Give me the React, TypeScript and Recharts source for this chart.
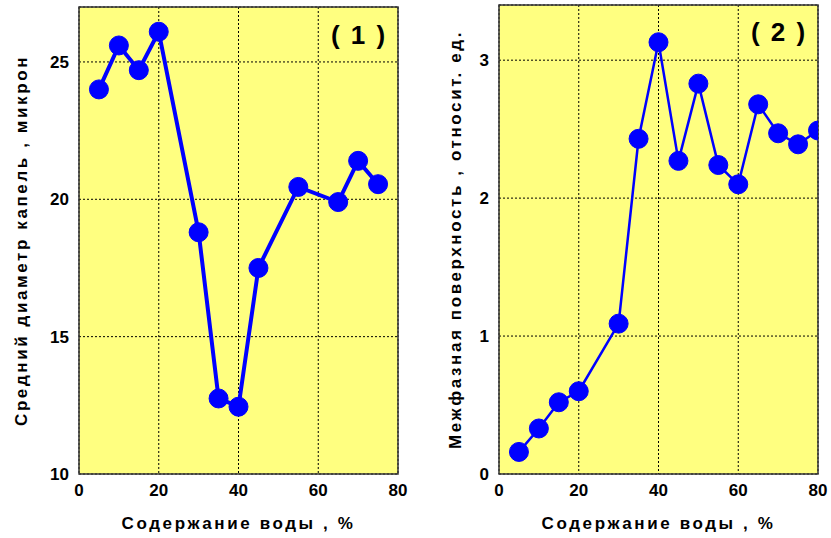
import React from 'react'
import { LineChart, Line, XAxis, YAxis, CartesianGrid, ReferenceArea } from 'recharts'

const water1 = [5, 10, 15, 20, 30, 35, 40, 45, 55, 65, 70, 75]
const diameter = [24.0, 25.6, 24.7, 26.1, 18.8, 12.75, 12.45, 17.5, 20.45, 19.9, 21.4, 20.55]

const water2 = [5, 10, 15, 20, 30, 35, 40, 45, 50, 55, 60, 65, 70, 75, 80]
const surface = [0.16, 0.33, 0.52, 0.6, 1.09, 2.43, 3.13, 2.27, 2.83, 2.24, 2.1, 2.68, 2.47, 2.39, 2.49]

const xTicks = [0, 20, 40, 60, 80]
const yTicks1 = [10, 15, 20, 25]
const yTicks2 = [0, 1, 2, 3]

const data1 = water1.map((w, i) => ({ w, v: diameter[i] }))
const data2 = water2.map((w, i) => ({ w, v: surface[i] }))

const FONT = '"Liberation Sans", Arial, sans-serif'
const tickStyle = { fontSize: 17, fontWeight: 700, fill: '#000', fontFamily: FONT }
const labelStyle = { fontSize: 17, fontWeight: 700, fill: '#000', fontFamily: FONT, letterSpacing: 2.6 }

const BLUE = '#0000FF'
const YELLOW = '#FFFF80'

type PanelProps = {
  data: { w: number; v: number }[]
  width: number
  margin: { top: number; right: number; left: number; bottom: number }
  yDomain: [number, number]
  yTicks: number[]
  yLabel: string
  yLabelDx: number
  strokeWidth: number
}

function Panel({ data, width, margin, yDomain, yTicks, yLabel, yLabelDx, strokeWidth }: PanelProps) {
  return (
    <LineChart width={width} height={538} data={data} margin={margin}>
      <CartesianGrid fill={YELLOW} fillOpacity={1} stroke="#000" strokeDasharray="2 2" />
      <XAxis
        dataKey="w"
        type="number"
        domain={[0, 80]}
        ticks={xTicks}
        interval={0}
        allowDataOverflow
        height={538 - 474}
        tick={tickStyle}
        tickLine={false}
        axisLine={false}
        tickSize={6}
        tickMargin={4}
        label={{ value: 'Содержание воды , %', position: 'insideBottom', offset: 9, style: labelStyle }}
      />
      <YAxis
        type="number"
        domain={yDomain}
        ticks={yTicks}
        interval={0}
        allowDataOverflow
        width={79}
        tick={tickStyle}
        tickLine={false}
        axisLine={false}
        tickSize={6}
        tickMargin={4}
        label={{ value: yLabel, angle: -90, position: 'center', dx: yLabelDx, style: labelStyle }}
      />
      <ReferenceArea
        x1={0}
        x2={80}
        y1={yDomain[0]}
        y2={yDomain[1]}
        fill="none"
        stroke="#333"
        strokeWidth={1.5}
        fillOpacity={0}
      />
      <Line
        dataKey="v"
        type="linear"
        stroke={BLUE}
        strokeWidth={strokeWidth}
        dot={{ r: 9.5, fill: BLUE, stroke: BLUE, strokeWidth: 1 }}
        isAnimationActive={false}
      />
    </LineChart>
  )
}

const titleStyle: React.CSSProperties = {
  position: 'absolute',
  fontFamily: FONT,
  fontWeight: 700,
  fontSize: 26,
  lineHeight: '26px',
  letterSpacing: 2,
  whiteSpace: 'pre',
  transform: 'translateX(-50%)',
}

export default function App() {
  return (
    <div style={{ position: 'absolute', left: 0, top: 0, width: 831, height: 538, background: '#fff' }}>
      <div style={{ position: 'absolute', left: 0, top: 0 }}>
        <Panel
          data={data1}
          width={420}
          margin={{ top: 7, right: 22, left: 0, bottom: 0 }}
          yDomain={[10, 27]}
          yTicks={yTicks1}
          yLabel="Средний диаметр капель , микрон"
          yLabelDx={-19}
          strokeWidth={4}
        />
      </div>
      <div style={{ position: 'absolute', left: 420, top: 0 }}>
        <Panel
          data={data2}
          width={411}
          margin={{ top: 5, right: 13, left: 0, bottom: 0 }}
          yDomain={[0, 3.4]}
          yTicks={yTicks2}
          yLabel="Межфазная поверхность , относит. ед."
          yLabelDx={-5}
          strokeWidth={2.5}
        />
      </div>
      <div style={{ ...titleStyle, left: 359, top: 22 }}>( 1 )</div>
      <div style={{ ...titleStyle, left: 779, top: 19 }}>( 2 )</div>
    </div>
  )
}
